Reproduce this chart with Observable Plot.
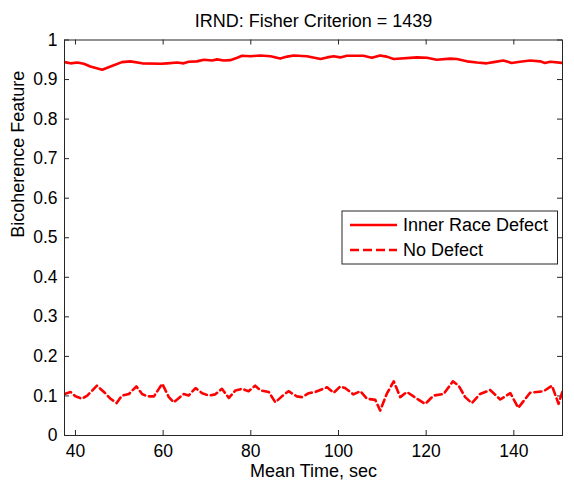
<!DOCTYPE html>
<html>
<head>
<meta charset="utf-8">
<script src="https://cdn.jsdelivr.net/npm/d3@7"></script>
<script src="https://cdn.jsdelivr.net/npm/@observablehq/plot@0.6"></script>
<style>
  html, body { margin: 0; padding: 0; background: #fff; }
  #chart { width: 574px; height: 485px; }
</style>
</head>
<body>
<div id="chart"></div>
<script>
// ---- Data ----
const innerTime  = [37.5, 38.9, 40.4, 41.9, 43.4, 46.1, 48.0, 50.6, 52.5, 55.2, 59.4, 60.9, 63.2, 64.7, 65.8, 67.7, 69.3, 71.2, 72.3, 73.8, 75.3, 76.9, 78.0, 79.9, 82.2, 84.5, 86.7, 88.3, 89.8, 92.8, 95.9, 97.4, 98.9, 100.4, 101.9, 105.7, 107.6, 109.5, 111.0, 112.6, 117.9, 120.2, 122.4, 125.5, 127.0, 129.3, 131.6, 133.8, 135.4, 137.6, 139.5, 141.4, 143.7, 146.0, 147.1, 148.3, 151.1];
const innerValue = [0.944, 0.941, 0.943, 0.940, 0.933, 0.925, 0.933, 0.944, 0.946, 0.941, 0.940, 0.941, 0.943, 0.941, 0.945, 0.946, 0.950, 0.948, 0.951, 0.948, 0.949, 0.955, 0.960, 0.959, 0.961, 0.959, 0.953, 0.958, 0.961, 0.959, 0.952, 0.956, 0.959, 0.956, 0.960, 0.960, 0.955, 0.961, 0.958, 0.952, 0.956, 0.955, 0.950, 0.953, 0.952, 0.946, 0.943, 0.941, 0.944, 0.948, 0.942, 0.945, 0.948, 0.946, 0.942, 0.945, 0.942];

const noDefectTime  = [37.5, 38.9, 40.0, 41.5, 42.7, 44.9, 46.5, 48.0, 49.4, 50.6, 52.2, 53.9, 55.2, 56.3, 57.9, 59.8, 61.3, 62.4, 64.7, 65.8, 67.4, 68.9, 70.4, 71.9, 73.4, 75.0, 76.5, 78.0, 79.5, 81.0, 82.2, 84.1, 85.6, 87.1, 88.6, 90.5, 91.7, 93.2, 94.7, 97.4, 98.9, 100.4, 101.5, 103.4, 105.0, 106.5, 108.4, 109.5, 111.0, 112.6, 114.1, 115.6, 117.9, 119.8, 121.7, 124.0, 126.1, 127.4, 128.9, 130.4, 132.3, 134.6, 136.9, 139.2, 141.0, 143.7, 146.8, 148.7, 150.2, 151.1];
const noDefectValue = [0.105, 0.110, 0.099, 0.093, 0.101, 0.126, 0.110, 0.093, 0.082, 0.101, 0.105, 0.124, 0.105, 0.099, 0.099, 0.131, 0.097, 0.084, 0.105, 0.101, 0.120, 0.107, 0.101, 0.104, 0.118, 0.095, 0.114, 0.118, 0.112, 0.126, 0.114, 0.110, 0.084, 0.099, 0.112, 0.099, 0.097, 0.107, 0.110, 0.122, 0.108, 0.124, 0.120, 0.104, 0.112, 0.093, 0.090, 0.063, 0.105, 0.137, 0.097, 0.110, 0.093, 0.080, 0.101, 0.105, 0.137, 0.126, 0.097, 0.082, 0.105, 0.115, 0.091, 0.107, 0.070, 0.108, 0.112, 0.126, 0.080, 0.112];

const xTicks = [40, 60, 80, 100, 120, 140];
const yTicks = [0, 0.1, 0.2, 0.3, 0.4, 0.5, 0.6, 0.7, 0.8, 0.9, 1];
const xDomain = [37.5, 151.1];
const yDomain = [0, 1];

const titleText = "IRND: Fisher Criterion = 1439";
const xLabel = "Mean Time, sec";
const yLabel = "Bicoherence Feature";
const seriesNames = ["Inner Race Defect", "No Defect"];

// ---- Build tables ----
const inner = innerTime.map((t, i) => ({t, v: innerValue[i]}));
const noDefect = noDefectTime.map((t, i) => ({t, v: noDefectValue[i]}));

const W = 574, H = 485;
const mL = 64, mR = 12, mT = 39.5, mB = 50;
const pW = W - mL - mR, pH = H - mT - mB;
const red = "#ff0000";
const axisColor = "#262626";
const font = "'Liberation Sans', Arial, sans-serif";

const chart = Plot.plot({
  width: W,
  height: H,
  marginLeft: mL,
  marginRight: mR,
  marginTop: mT,
  marginBottom: mB,
  style: {fontFamily: font, background: "#fff", color: "#000"},
  x: {domain: xDomain, ticks: xTicks},
  y: {domain: yDomain, ticks: yTicks},
  marks: [
    // tick labels only
    Plot.axisX(xTicks, {tickSize: 0, tickPadding: 9, fontSize: 17.5, label: null, fill: "#000"}),
    Plot.axisY(yTicks, {tickSize: 0, tickPadding: 7, fontSize: 17.5, label: null, fill: "#000",
      tickFormat: d => String(+d.toFixed(1))}),
    // inward ticks on all four sides
    Plot.tickX(xTicks, {x: d => d, insetTop: pH - 5, stroke: axisColor}),
    Plot.tickX(xTicks, {x: d => d, insetBottom: pH - 5, stroke: axisColor}),
    Plot.tickY(yTicks, {y: d => d, insetRight: pW - 5, stroke: axisColor}),
    Plot.tickY(yTicks, {y: d => d, insetLeft: pW - 5, stroke: axisColor}),
    // data lines
    Plot.line(inner, {x: "t", y: "v", stroke: red, strokeWidth: 2.6, clip: true}),
    Plot.line(noDefect, {x: "t", y: "v", stroke: red, strokeWidth: 2.6, strokeDasharray: "7,4", clip: true}),
    // frame box
    Plot.frame({stroke: axisColor, strokeWidth: 1}),
    // title & axis labels
    Plot.text([titleText], {frameAnchor: "top", lineAnchor: "bottom", dy: -12.8, fontSize: 18, fill: "#000", text: d => d}),
    Plot.text([xLabel], {frameAnchor: "bottom", lineAnchor: "bottom", dy: 41.5, fontSize: 18, fill: "#000", text: d => d}),
    Plot.text([yLabel], {frameAnchor: "left", lineAnchor: "middle", rotate: -90, dx: -46, fontSize: 18, fill: "#000", text: d => d})
  ]
});

document.getElementById("chart").appendChild(chart);

// ---- Legend (drawn into the same SVG) ----
const svg = d3.select(chart);
const lg = svg.append("g").attr("font-family", font).attr("font-size", 18).attr("text-anchor", "start");
const box = {x: 342, y: 211, w: 215.5, h: 53};
lg.append("rect").attr("x", box.x).attr("y", box.y).attr("width", box.w).attr("height", box.h)
  .attr("fill", "#fff").attr("stroke", axisColor).attr("stroke-width", 1);
seriesNames.forEach((name, i) => {
  const yy = box.y + 14 + i * 25;
  lg.append("line").attr("x1", box.x + 8).attr("x2", box.x + 55).attr("y1", yy).attr("y2", yy)
    .attr("stroke", red).attr("stroke-width", 2.6)
    .attr("stroke-dasharray", i === 1 ? "9,4" : null);
  lg.append("text").attr("x", box.x + 61).attr("y", yy).attr("dy", "0.35em")
    .attr("text-anchor", "start").attr("fill", "#000").text(name);
});
</script>
</body>
</html>
